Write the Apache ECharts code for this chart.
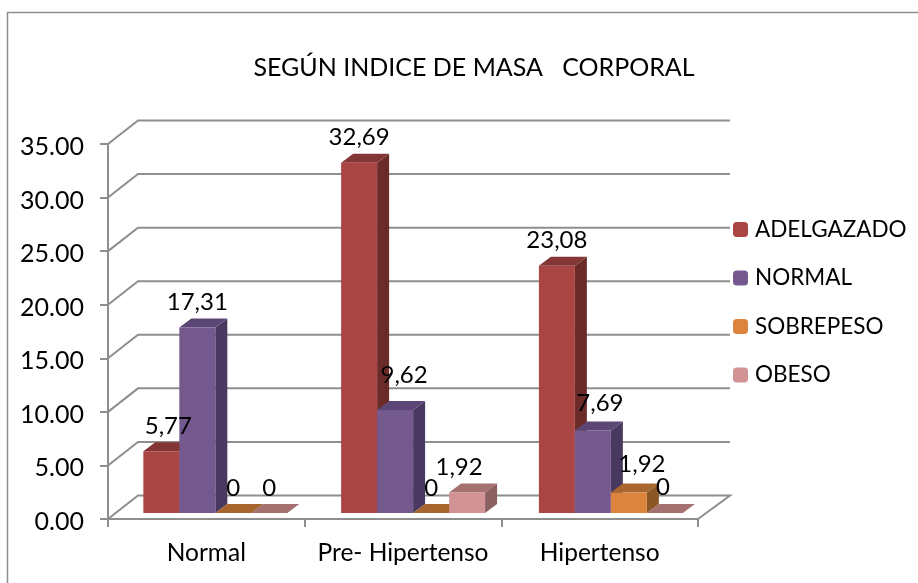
<!DOCTYPE html>
<html>
<head>
<meta charset="utf-8">
<style>
  html, body { margin: 0; padding: 0; background: #fff; }
  #chart { width: 918px; height: 583px; }
</style>
<script src="https://cdn.jsdelivr.net/npm/echarts@6/dist/echarts.min.js"></script>
</head>
<body>
<div id="chart"></div>
<script>
const categories = ['Normal', 'Pre- Hipertenso', 'Hipertenso']
const yTicks = [0, 5, 10, 15, 20, 25, 30, 35]
const adelgazado = [5.77, 32.69, 23.08]
const normal = [17.31, 9.62, 7.69]
const sobrepeso = [0, 0, 1.92]
const obeso = [0, 1.92, 0]

const FONT = 'Lato'
const LABEL_SIZE = 24
// colores: frente, lado, tapa
const colors = [
  ['#a94543', '#6b2b29', '#833634'],
  ['#74598f', '#49385f', '#5b4676'],
  ['#dc843e', '#8b5727', '#a8652d'],
  ['#d19393', '#8a6060', '#a47070']
]
// ajustes a mano de las etiquetas, como en el original: serie-categoria
const labelNudge = {
  '0-0': [7, 0], '1-1': [9, -10], '3-1': [-8, 0],
  '1-2': [7, -2], '2-2': [13, -3], '3-2': [-2, -1]
}

function fmt (v) {
  return v === 0 ? '0' : v.toFixed(2).replace('.', ',')
}

function barItem (seriesIndex) {
  return function (params, api) {
    const cat = api.value(0)
    const val = api.value(1)
    const band = api.size([1, 0])[0]
    const w = band * 0.183
    const center = api.coord([cat, 0])
    const top = api.coord([cat, val])
    const dx = 12
    const dy = 9
    // los grupos van un poco mas separados que las marcas del eje
    const x0 = center[0] + 9 + cat * 1.1 - 2 * w + seriesIndex * w
    const x1 = x0 + w
    const yb = center[1] - 6
    const yt = top[1] - 6
    const c = colors[seriesIndex]
    const nudge = labelNudge[seriesIndex + '-' + cat] || [0, 0]
    const children = [
      { type: 'polygon', shape: { points: [[x1, yb], [x1 + dx, yb - dy], [x1 + dx, yt - dy], [x1, yt]] }, style: { fill: c[1] }, z2: 1 },
      { type: 'polygon', shape: { points: [[x0, yt], [x0 + dx, yt - dy], [x1 + dx, yt - dy], [x1, yt]] }, style: { fill: c[2] }, z2: 1 },
      {
        type: 'text',
        z2: 50,
        style: {
          text: fmt(val),
          x: (x0 + x1) / 2 + nudge[0],
          y: yt - dy - 16 + nudge[1],
          align: 'center',
          verticalAlign: 'middle',
          fill: '#000',
          font: LABEL_SIZE + 'px ' + FONT
        }
      }
    ]
    if (val > 0) {
      children.push({ type: 'rect', shape: { x: x0, y: yt, width: w, height: yb - yt }, style: { fill: c[0] }, z2: 2 })
    }
    return { type: 'group', children: children }
  }
}

function wallItem (params, api) {
  const v = api.value(1)
  const sys = params.coordSys
  const y = api.coord([0, v])[1]
  const left = sys.x
  const right = sys.x + sys.width
  const pts = [[left, y], [left + 30, y - 23.5], [right + 32, y - 23.5]]
  if (v === 0) pts.push([right, y])
  return { type: 'polyline', shape: { points: pts }, style: { fill: null, stroke: '#8e8e8e', lineWidth: 2 }, silent: true }
}

function barSeries (name, values, i) {
  return {
    name: name,
    type: 'custom',
    renderItem: barItem(i),
    itemStyle: { color: colors[i][0] },
    encode: { x: 0, y: 1 },
    z: 5,
    data: values.map((v, c) => [c, v])
  }
}

const myChart = echarts.init(document.getElementById('chart'), null, { renderer: 'canvas' })
myChart.setOption({
  animation: false,
  backgroundColor: '#fff',
  textStyle: { fontFamily: FONT },
  title: {
    text: 'SEGÚN INDICE DE MASA   CORPORAL',
    left: 469,
    top: 50,
    textAlign: 'center',
    textStyle: { fontFamily: FONT, fontSize: 25, fontWeight: 'normal', color: '#000' }
  },
  legend: {
    orient: 'vertical',
    left: 733,
    top: 217.5,
    padding: 0,
    itemWidth: 15,
    itemHeight: 15,
    itemGap: 24.5,
    itemStyle: { borderWidth: 0 },
    selectedMode: false,
    textStyle: { fontFamily: FONT, fontSize: 22.5, lineHeight: 24, color: '#000', padding: [0, 0, 0, 2] },
    data: ['ADELGAZADO', 'NORMAL', 'SOBREPESO', 'OBESO']
  },
  grid: { left: 108, right: 220, top: 144, bottom: 64, containLabel: false },
  xAxis: {
    type: 'category',
    data: categories,
    axisLine: { lineStyle: { color: '#8e8e8e', width: 2 } },
    axisTick: { show: true, length: 8, lineStyle: { color: '#8e8e8e', width: 2 } },
    axisLabel: { color: '#000', fontSize: 24.5, fontFamily: FONT, margin: 22, interval: 0 }
  },
  yAxis: {
    type: 'value',
    min: 0,
    max: 35,
    interval: 5,
    splitLine: { show: false },
    axisLine: { show: true, lineStyle: { color: '#8e8e8e', width: 2 } },
    axisTick: { show: true, length: 8, lineStyle: { color: '#8e8e8e', width: 2 } },
    axisLabel: {
      margin: 24,
      formatter: v => '{t|' + v.toFixed(2) + '}',
      rich: { t: { color: '#000', fontSize: 25, fontFamily: FONT, verticalAlign: 'top', padding: [6, 0, 0, 0] } }
    }
  },
  graphic: [
    { type: 'polyline', shape: { points: [[7.5, 583], [7.5, 12.5], [918, 12.5]] }, style: { fill: null, stroke: '#8e8e8e', lineWidth: 1.5 }, silent: true }
  ],
  series: [
    { type: 'custom', renderItem: wallItem, encode: { x: 0, y: 1 }, z: 1, silent: true, data: yTicks.map(v => [0, v]) },
    barSeries('ADELGAZADO', adelgazado, 0),
    barSeries('NORMAL', normal, 1),
    barSeries('SOBREPESO', sobrepeso, 2),
    barSeries('OBESO', obeso, 3)
  ]
})
</script>
</body>
</html>
